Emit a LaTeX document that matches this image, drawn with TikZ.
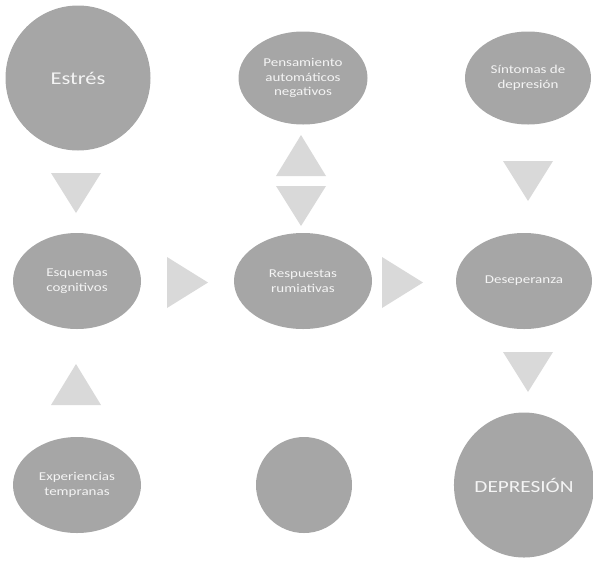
\documentclass[tikz,border=0pt]{standalone}
\usepackage{fontspec}
\setmainfont{Carlito}[FakeStretch=1.25]
\usetikzlibrary{shapes.geometric}

\definecolor{bubblegray}{HTML}{A6A6A6}
\definecolor{trigray}{HTML}{D9D9D9}
\definecolor{softwhite}{HTML}{F4F4F4}

\tikzset{
  blob/.style={ellipse, fill=bubblegray, inner sep=0pt, text=softwhite,
    align=center, font=\fontsize{12}{14.5}\selectfont},
  bigblob/.style={blob, font=\fontsize{18}{21}\selectfont},
  tri/.style={fill=trigray}
}

\begin{document}
\begin{tikzpicture}[x=1pt, y=-1pt]
    \useasboundingbox (0,0) rectangle (593,560);
    % top row
    \node[bigblob, minimum width=145, minimum height=145] (estres) at (78,78) {Estrés};
    \node[blob, minimum width=129, minimum height=93] (pensamiento) at (303,78) {Pensamiento\\automáticos\\negativos};
    \node[blob, minimum width=126, minimum height=93] (sintomas) at (528,78) {Síntomas de\\depresión};
    % middle row
    \node[blob, minimum width=128, minimum height=96] (esquemas) at (77,281) {Esquemas\\cognitivos};
    \node[blob, minimum width=138, minimum height=96] (respuestas) at (303,281) {Respuestas\\rumiativas};
    \node[blob, minimum width=136, minimum height=96] (deseperanza) at (524,281) {Deseperanza};
    % bottom row
    \node[blob, minimum width=128, minimum height=96] (experiencias) at (77,485) {Experiencias\\tempranas};
    \node[blob, minimum width=96, minimum height=96] (vacio) at (304,485) {};
    \node[bigblob, font=\fontsize{17}{20}\selectfont, minimum width=136, minimum height=145] (depresion) at (524,485) {DEPRESIÓN};

    % triangles pointing down
    \foreach \x/\y in {76/173, 301/186, 528/161, 528/352}
        \fill[tri] (\x-25,\y) -- (\x+25,\y) -- (\x,\y+40) -- cycle;
    % triangles pointing up
    \foreach \x/\y in {301/176, 76/405}
        \fill[tri] (\x-25,\y) -- (\x+25,\y) -- (\x,\y-41) -- cycle;
    % triangles pointing right
    \foreach \x/\y in {167/257, 382/257}
        \fill[tri] (\x,\y) -- (\x,\y+51) -- (\x+41,\y+25.5) -- cycle;
\end{tikzpicture}
\end{document}
